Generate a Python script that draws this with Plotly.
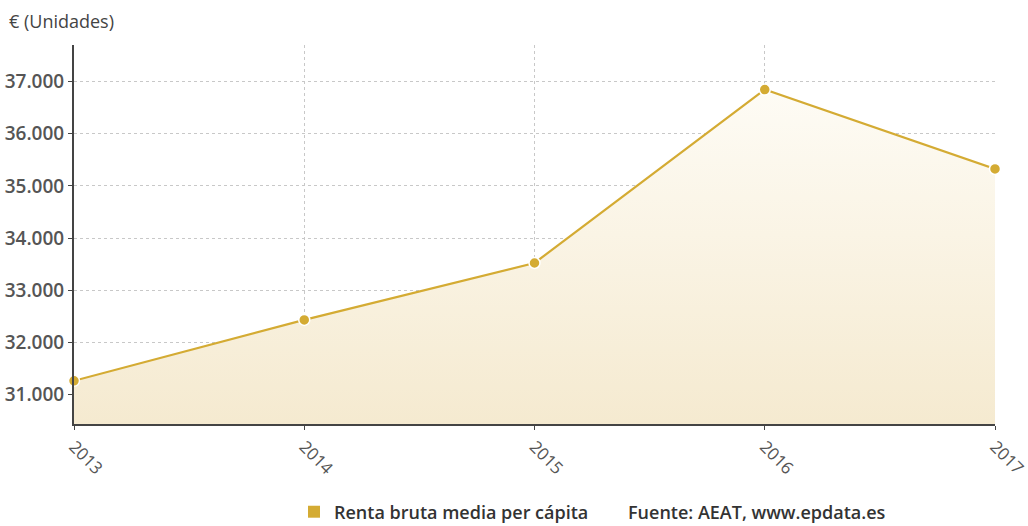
import plotly.graph_objects as go

# Renta bruta media per cápita (€)
years = ["2013", "2014", "2015", "2016", "2017"]
renta = [31268, 32434, 33524, 36847, 35325]
y_ticks = [31000, 32000, 33000, 34000, 35000, 36000, 37000]

GOLD = "#d4ab33"
FONT = "Open Sans, Noto Sans, sans-serif"

fig = go.Figure()

fig.add_trace(go.Scatter(
    x=years, y=renta,
    mode="lines+markers",
    line=dict(color=GOLD, width=2.2),
    marker=dict(size=11, color=GOLD, line=dict(color="white", width=1.5)),
    fill="tozeroy",
    fillgradient=dict(
        type="vertical",
        colorscale=[[0, "rgba(245,234,208,1)"], [1, "rgba(255,254,250,1)"]],
        start=30440, stop=37700,
    ),
    cliponaxis=False,
    showlegend=False,
    hoverinfo="x+y",
))

# legend swatch
fig.add_trace(go.Scatter(
    x=[None], y=[None], mode="markers",
    marker=dict(symbol="square", size=12, color=GOLD),
    name="Renta bruta media per cápita",
))

fig.update_layout(
    width=1028, height=526,
    margin=dict(l=74, r=33, t=45, b=102),
    paper_bgcolor="white",
    plot_bgcolor="white",
    separators=",.",
    font=dict(family=FONT, color="#555555", size=15),
    title=dict(text="€ (Unidades)", x=9/1028, xref="container", xanchor="left",
               y=1-22/526, yref="container", yanchor="middle",
               font=dict(family=FONT, size=18, color="#444444", weight=500)),
    legend=dict(orientation="h", x=(294-74)/921, xanchor="left",
                yref="container", y=1-512/526, yanchor="middle",
                font=dict(family=FONT, size=18, color="#333333", weight=600),
                itemwidth=30, tracegroupgap=0),
    xaxis=dict(
        type="category", range=[0, 4], automargin=False,
        showgrid=True, gridcolor="#c8c8c8", griddash="dot", gridwidth=1,
        showline=True, linecolor="#444444", linewidth=2,
        ticks="outside", ticklen=4, tickcolor="#444444",
        tickangle=45, tickfont=dict(size=17, color="#555555"),
        zeroline=False,
    ),
    yaxis=dict(
        range=[30440, 37700], automargin=False,
        tickvals=y_ticks, tickformat=",d",
        showgrid=True, gridcolor="#c8c8c8", griddash="dot", gridwidth=1,
        showline=True, linecolor="#444444", linewidth=2,
        ticks="outside", ticklen=4, tickcolor="#444444",
        tickfont=dict(size=19, color="#555555", weight=600),
        zeroline=False,
    ),
    annotations=[dict(
        text="Fuente: AEAT, www.epdata.es",
        x=(626-74)/921, xref="paper", xanchor="left",
        yref="paper", y=(424-512)/379, yanchor="middle",
        showarrow=False,
        font=dict(family=FONT, size=18, color="#333333", weight=600),
    )],
)

fig.write_html("out.html")
